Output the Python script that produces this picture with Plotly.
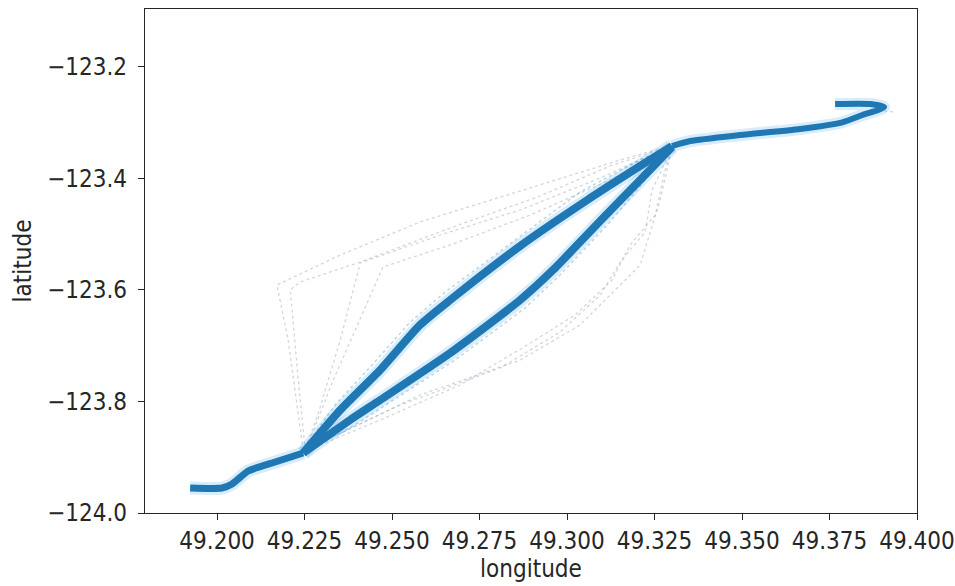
import plotly.graph_objects as go

# ---- data (longitude, latitude) ----
start_lon = [49.1923, 49.2014, 49.2043, 49.2089, 49.2166, 49.2246]
start_lat = [-123.9552, -123.9552, -123.9480, -123.9247, -123.9086, -123.8925]

upper_lon = [49.2246, 49.2352, 49.2466, 49.2580, 49.2666, 49.2866, 49.3058, 49.3209, 49.3300]
upper_lat = [-123.8925, -123.8154, -123.7437, -123.6630, -123.6182, -123.5214, -123.4390, -123.3780, -123.3422]

lower_lon = [49.2246, 49.2380, 49.2466, 49.2666, 49.2866, 49.2960, 49.3103, 49.3209, 49.3300]
lower_lat = [-123.8925, -123.8333, -123.7975, -123.7132, -123.6182, -123.5644, -123.4712, -123.4031, -123.3440]

end_lon = [49.3300, 49.3352, 49.3495, 49.3666, 49.3789, 49.3844, 49.3889, 49.3906, 49.3866, 49.3766]
end_lat = [-123.3422, -123.3332, -123.3225, -123.3117, -123.2992, -123.2866, -123.2777, -123.2723, -123.2669, -123.2669]

# faint stray tracks
faint_tracks = [
    ([49.2246, 49.2226, 49.2203, 49.2171, 49.2352, 49.2580, 49.2923, 49.3152, 49.3280],
     [-123.8871, -123.7975, -123.6899, -123.5913, -123.5376, -123.4784, -123.4121, -123.3673, -123.3440]),
    ([49.2252, 49.2232, 49.2209, 49.2237, 49.2409, 49.2666, 49.2923, 49.3123, 49.3289],
     [-123.8871, -123.7616, -123.6003, -123.5860, -123.5501, -123.4892, -123.4318, -123.3780, -123.3440]),
    ([49.2252, 49.2286, 49.2352, 49.2409, 49.2637, 49.2866, 49.3095, 49.3289],
     [-123.8835, -123.8279, -123.6899, -123.5519, -123.5017, -123.4569, -123.3995, -123.3440]),
    ([49.2257, 49.2332, 49.2474, 49.2666, 49.2895, 49.3123, 49.3295],
     [-123.8817, -123.7616, -123.5591, -123.5196, -123.4659, -123.4031, -123.3458]),
    ([49.2246, 49.2466, 49.2694, 49.2886, 49.3023, 49.3129, 49.3180, 49.3252, 49.3280, 49.3300],
     [-123.8907, -123.8333, -123.7706, -123.6989, -123.6451, -123.5824, -123.5196, -123.4659, -123.3852, -123.3458]),
    ([49.2266, 49.2580, 49.2866, 49.3037, 49.3209, 49.3266, 49.3300],
     [-123.8835, -123.7885, -123.7258, -123.6630, -123.5555, -123.4390, -123.3458]),
    ([49.2237, 49.2523, 49.2809, 49.2980, 49.3095, 49.3152, 49.3223, 49.3243, 49.3300],
     [-123.8907, -123.8064, -123.7401, -123.6756, -123.6093, -123.5501, -123.4963, -123.4210, -123.3458]),
    ([49.3889, 49.3932],
     [-123.2777, -123.2812]),
]

near_tracks = [
    ([49.2246, 49.2337, 49.2443, 49.2552, 49.2652, 49.2852, 49.3037, 49.3209, 49.3300],
     [-123.8871, -123.8064, -123.7347, -123.6576, -123.6039, -123.5107, -123.4246, -123.3673, -123.3422]),
    ([49.2246, 49.2394, 49.2680, 49.2880, 49.2980, 49.3123, 49.3223, 49.3300],
     [-123.8925, -123.8423, -123.7258, -123.6326, -123.5734, -123.4784, -123.4031, -123.3440]),
]

x_ticks = [49.200, 49.225, 49.250, 49.275, 49.300, 49.325, 49.350, 49.375, 49.400]
x_labels = ["49.200", "49.225", "49.250", "49.275", "49.300", "49.325", "49.350", "49.375", "49.400"]
y_ticks = [-124.0, -123.8, -123.6, -123.4, -123.2]
y_labels = ["\u2212124.0", "\u2212123.8", "\u2212123.6", "\u2212123.4", "\u2212123.2"]

BLUE = "#1f77b4"
FONT = "DejaVu Sans Condensed, DejaVu Sans"
FS = 24

fig = go.Figure()

for lon, lat in faint_tracks:
    fig.add_trace(go.Scatter(x=lon, y=lat, mode="lines",
                             line=dict(color="rgba(140,152,175,0.4)", width=1.3, dash="dot"),
                             hoverinfo="skip"))
for lon, lat in near_tracks:
    fig.add_trace(go.Scatter(x=lon, y=lat, mode="lines",
                             line=dict(color="rgba(31,119,180,0.3)", width=1.5, dash="dot"),
                             hoverinfo="skip"))

segments = [(start_lon, start_lat, 7), (upper_lon, upper_lat, 8),
            (lower_lon, lower_lat, 8), (end_lon, end_lat, 6)]
for lon, lat, w in segments:
    fig.add_trace(go.Scatter(x=lon, y=lat, mode="lines",
                             line=dict(color="rgba(60,160,230,0.2)", width=w + 6, shape="spline", smoothing=0.6),
                             hoverinfo="skip"))
for lon, lat, w in segments:
    fig.add_trace(go.Scatter(x=lon, y=lat, mode="lines",
                             line=dict(color=BLUE, width=w, shape="spline", smoothing=0.6)))

axis_common = dict(showgrid=False, zeroline=False, showline=True, mirror=True, automargin=False,
                   linecolor="#262626", linewidth=1.3, ticks="outside", ticklen=6,
                   tickwidth=1.2, tickcolor="#262626", ticklabeloverflow="allow",
                   tickfont=dict(family=FONT, size=FS, color="#262626"))

fig.update_layout(
    width=955, height=586,
    margin=dict(l=145, r=38, t=9, b=73),
    paper_bgcolor="white", plot_bgcolor="white",
    showlegend=False,
    font=dict(family=FONT, size=FS, color="#262626"),
    xaxis=dict(range=[49.1794, 49.4], tickvals=x_ticks, ticktext=x_labels,
               title=dict(text="longitude", font=dict(family=FONT, size=FS), standoff=4), **axis_common),
    yaxis=dict(range=[-124.0, -123.0966], tickvals=y_ticks, ticktext=y_labels, ticklabelstandoff=6,
               title=dict(text="latitude", font=dict(family=FONT, size=FS), standoff=8), **axis_common),
)

fig.write_html("out.html")
